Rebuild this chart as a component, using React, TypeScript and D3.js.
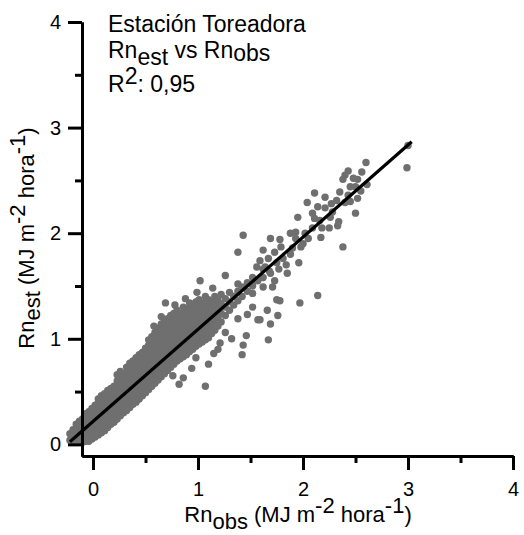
import React, { useEffect, useRef } from 'react';
import * as d3 from 'd3';

// dense part of the cloud: one Rn obs value per column, the Rn est values stacked on it
const bandObs = [
  -0.22, -0.19, -0.16, -0.13, -0.1, -0.07, -0.04, -0.01, 0.02, 0.05, 0.08, 0.11, 0.14, 0.17, 0.2,
  0.23, 0.26, 0.29, 0.32, 0.35, 0.38, 0.41, 0.44, 0.47, 0.5, 0.53, 0.56, 0.59, 0.62, 0.65, 0.68,
  0.71, 0.74, 0.77, 0.8, 0.83, 0.86, 0.89, 0.92, 0.95, 0.98, 1.01, 1.04, 1.07, 1.1, 1.13, 1.16,
  1.19, 1.22, 1.26, 1.3, 1.34, 1.38, 1.42, 1.47, 1.52, 1.57, 1.62, 1.68,
];
const bandEst = [
  [0.04, 0.1],
  [0.03, 0.09, 0.14],
  [0.02, 0.08, 0.14, 0.19],
  [0.02, 0.07, 0.13, 0.19, 0.22],
  [0.02, 0.07, 0.13, 0.18, 0.24],
  [0.03, 0.08, 0.14, 0.19, 0.25, 0.29],
  [0.03, 0.09, 0.15, 0.21, 0.27, 0.31],
  [0.05, 0.11, 0.17, 0.23, 0.29, 0.34],
  [0.07, 0.13, 0.19, 0.25, 0.31, 0.37],
  [0.09, 0.15, 0.21, 0.27, 0.33, 0.39, 0.43],
  [0.11, 0.17, 0.23, 0.29, 0.35, 0.41, 0.46],
  [0.13, 0.19, 0.25, 0.31, 0.37, 0.43, 0.48],
  [0.16, 0.22, 0.28, 0.34, 0.4, 0.46, 0.51],
  [0.19, 0.25, 0.31, 0.37, 0.43, 0.49, 0.53],
  [0.21, 0.27, 0.33, 0.39, 0.45, 0.51, 0.55],
  [0.24, 0.3, 0.36, 0.42, 0.48, 0.54, 0.6, 0.66],
  [0.27, 0.33, 0.39, 0.45, 0.51, 0.57, 0.63, 0.69],
  [0.3, 0.36, 0.42, 0.48, 0.54, 0.6, 0.65],
  [0.32, 0.38, 0.44, 0.5, 0.56, 0.62, 0.68, 0.73],
  [0.35, 0.41, 0.47, 0.53, 0.59, 0.65, 0.71, 0.77],
  [0.38, 0.44, 0.5, 0.56, 0.62, 0.68, 0.74, 0.79],
  [0.4, 0.46, 0.52, 0.58, 0.64, 0.7, 0.76, 0.82],
  [0.43, 0.49, 0.55, 0.61, 0.67, 0.73, 0.79, 0.85],
  [0.46, 0.52, 0.58, 0.64, 0.7, 0.76, 0.82, 0.87],
  [0.49, 0.55, 0.61, 0.67, 0.73, 0.79, 0.85, 0.91],
  [0.52, 0.58, 0.64, 0.7, 0.76, 0.82, 0.88, 0.94, 0.99],
  [0.55, 0.61, 0.67, 0.73, 0.79, 0.85, 0.91, 0.97, 1.02],
  [0.58, 0.64, 0.7, 0.76, 0.82, 0.88, 0.94, 1.0, 1.06],
  [0.61, 0.67, 0.73, 0.79, 0.85, 0.91, 0.97, 1.03, 1.1],
  [0.64, 0.7, 0.76, 0.82, 0.88, 0.94, 1.0, 1.06, 1.14, 1.21],
  [0.67, 0.73, 0.79, 0.85, 0.91, 0.97, 1.03, 1.09, 1.17],
  [0.7, 0.76, 0.82, 0.88, 0.94, 1.0, 1.06, 1.12, 1.19],
  [0.73, 0.79, 0.85, 0.91, 0.97, 1.03, 1.09, 1.15, 1.22],
  [0.76, 0.82, 0.88, 0.94, 1.0, 1.06, 1.12, 1.18, 1.24],
  [0.79, 0.85, 0.91, 0.97, 1.03, 1.09, 1.15, 1.21, 1.27],
  [0.81, 0.87, 0.93, 0.99, 1.05, 1.11, 1.17, 1.23],
  [0.83, 0.89, 0.95, 1.01, 1.07, 1.13, 1.19, 1.25, 1.3],
  [0.85, 0.91, 0.97, 1.03, 1.09, 1.15, 1.21, 1.27],
  [0.88, 0.94, 1.0, 1.06, 1.12, 1.18, 1.24, 1.3],
  [0.9, 0.96, 1.02, 1.08, 1.14, 1.2, 1.26, 1.32],
  [0.93, 0.99, 1.05, 1.11, 1.17, 1.23, 1.29, 1.35],
  [0.95, 1.01, 1.07, 1.13, 1.19, 1.25, 1.31, 1.37],
  [0.97, 1.03, 1.09, 1.15, 1.21, 1.27, 1.33],
  [0.99, 1.05, 1.11, 1.17, 1.23, 1.29, 1.35, 1.4],
  [1.01, 1.07, 1.13, 1.19, 1.25, 1.31, 1.37],
  [1.05, 1.11, 1.17, 1.23, 1.29, 1.35],
  [1.08, 1.14, 1.2, 1.26, 1.32, 1.4],
  [1.12, 1.2, 1.28, 1.36],
  [1.16, 1.24, 1.33, 1.42],
  [1.22, 1.3, 1.38],
  [1.27, 1.35, 1.44],
  [1.32, 1.4],
  [1.36, 1.45, 1.52],
  [1.4, 1.49],
  [1.45, 1.53],
  [1.5, 1.58],
  [1.55],
  [1.58, 1.66],
  [1.64],
];

// scattered points, read one at a time: [Rn obs, Rn est]
const loosePoints: [number, number][] = [
  [0.69, 1.34], [0.78, 1.32], [0.88, 1.38], [0.99, 1.44], [1.02, 1.55], [1.14, 1.48], [1.26, 1.6],
  [1.38, 1.82], [1.43, 1.98], [1.59, 1.74], [0.58, 1.12], [0.92, 1.34],
  [1.07, 0.55], [0.82, 0.57], [0.76, 0.65], [0.86, 0.63], [0.94, 0.72], [1.1, 0.76], [1.42, 0.85],
  [1.43, 0.94], [1.46, 1.03], [1.32, 1.0], [1.67, 0.99], [1.69, 1.14], [1.76, 1.22], [1.66, 1.27],
  [1.57, 1.18], [1.47, 1.23], [1.38, 1.19], [1.78, 1.36], [1.97, 1.34], [1.21, 0.96], [1.26, 1.06],
  [2.14, 1.41], [1.19, 0.9], [1.59, 1.18], [1.52, 1.3], [0.98, 0.82], [1.15, 0.86], [1.75, 1.37],
  [3.0, 2.83], [2.99, 2.62], [2.6, 2.67], [2.43, 2.59], [2.4, 2.55], [2.38, 2.51], [2.52, 2.51],
  [2.61, 2.46], [2.5, 2.44], [2.45, 2.44], [2.35, 2.39], [2.43, 2.36], [2.52, 2.33], [2.4, 2.29],
  [2.32, 2.31], [2.21, 2.34], [2.11, 2.38], [2.27, 2.28], [2.21, 2.24], [2.14, 2.25], [2.04, 2.29],
  [2.09, 2.19], [2.11, 2.14], [2.16, 2.12], [2.26, 2.15], [1.95, 2.15], [2.5, 2.19], [2.34, 2.11],
  [2.33, 2.07], [2.38, 1.87], [2.09, 2.05], [2.02, 2.0], [1.93, 2.01], [1.88, 2.0], [1.78, 1.94],
  [1.69, 1.95], [1.93, 1.95], [1.9, 1.86], [1.98, 1.87], [1.79, 1.87], [1.73, 1.82], [1.62, 1.84],
  [1.56, 1.68], [1.64, 1.68], [1.69, 1.62], [1.81, 1.76], [1.96, 1.72], [1.85, 1.62], [1.73, 1.55],
  [1.62, 1.49], [1.71, 1.49], [1.54, 1.55], [1.52, 1.43], [2.17, 1.96], [1.75, 1.72], [1.88, 1.8],
  [2.0, 1.9], [2.05, 1.95], [2.25, 2.05], [2.28, 2.2], [2.45, 2.3], [2.55, 2.4], [2.18, 2.05],
  [1.77, 1.66], [1.84, 1.7], [2.56, 2.58], [2.48, 2.52], [1.67, 1.76],
];

// regression line ends
const fitObs = [-0.22, 3.035];
const fitEst = [0.025, 2.866];

const majorTicks = [0, 1, 2, 3, 4];
const minorTicks = [0.5, 1.5, 2.5, 3.5];

const width = 524;
const height = 535;
const font = '"Liberation Sans", Arial, sans-serif';

const App = () => {
  const svgRef = useRef<SVGSVGElement>(null);

  useEffect(() => {
    const svg = d3.select(svgRef.current);
    svg.selectAll('*').remove();

    const x = d3.scaleLinear().domain([-0.105, 4]).range([82, 513]);
    const y = d3.scaleLinear().domain([-0.11, 4]).range([456, 22]);

    const points: [number, number][] = [];
    bandObs.forEach((o, i) => bandEst[i].forEach((e) => points.push([o, e])));
    loosePoints.forEach((p) => points.push(p));

    svg
      .append('g')
      .selectAll('circle')
      .data(points)
      .join('circle')
      .attr('cx', (d) => x(d[0]))
      .attr('cy', (d) => y(d[1]))
      .attr('r', 3.7)
      .attr('fill', '#6f6f6f');

    const line = d3
      .line<number>()
      .x((d) => x(d))
      .y((d, i) => y(fitEst[i]));
    svg
      .append('path')
      .attr('d', line(fitObs))
      .attr('fill', 'none')
      .attr('stroke', '#000')
      .attr('stroke-width', 3.2);

    const styleAxis = (g) => {
      g.selectAll('path, line').attr('stroke', '#000').attr('stroke-width', 3);
      g.selectAll('text').attr('font-size', 20).attr('font-family', font).attr('fill', '#000');
    };

    svg
      .append('g')
      .attr('transform', 'translate(82,0)')
      .call(d3.axisLeft(y).tickValues(majorTicks).tickSize(14).tickSizeOuter(0).tickPadding(7).tickFormat(d3.format('d')))
      .call(styleAxis);
    svg
      .append('g')
      .attr('transform', 'translate(82,0)')
      .call(d3.axisLeft(y).tickValues(minorTicks).tickSize(7).tickSizeOuter(0).tickFormat(() => ''))
      .call(styleAxis);
    svg
      .append('g')
      .attr('transform', 'translate(0,456)')
      .call(d3.axisBottom(x).tickValues(majorTicks).tickSize(14).tickSizeOuter(0).tickPadding(12).tickFormat(d3.format('d')))
      .call(styleAxis);
    svg
      .append('g')
      .attr('transform', 'translate(0,456)')
      .call(d3.axisBottom(x).tickValues(minorTicks).tickSize(7).tickSizeOuter(0).tickFormat(() => ''))
      .call(styleAxis);

    // axis titles
    const xt = svg
      .append('text')
      .attr('x', 298)
      .attr('y', 522)
      .attr('text-anchor', 'middle')
      .attr('font-size', 22)
      .attr('font-family', font);
    xt.append('tspan').text('Rn');
    xt.append('tspan').attr('dy', 7).text('obs');
    xt.append('tspan').attr('dy', -7).text(' (MJ m');
    xt.append('tspan').attr('dy', -9).text('-2');
    xt.append('tspan').attr('dy', 9).text(' hora');
    xt.append('tspan').attr('dy', -9).text('-1');
    xt.append('tspan').attr('dy', 9).text(')');

    const yt = svg
      .append('text')
      .attr('transform', 'translate(34,238) rotate(-90)')
      .attr('text-anchor', 'middle')
      .attr('font-size', 22)
      .attr('font-family', font);
    yt.append('tspan').text('Rn');
    yt.append('tspan').attr('dy', 6).text('est');
    yt.append('tspan').attr('dy', -6).text(' (MJ m');
    yt.append('tspan').attr('dy', -9).text('-2');
    yt.append('tspan').attr('dy', 9).text(' hora');
    yt.append('tspan').attr('dy', -9).text('-1');
    yt.append('tspan').attr('dy', 9).text(')');

    // annotation block
    const note = svg.append('g').attr('font-size', 23).attr('font-family', font);
    note.append('text').attr('x', 108).attr('y', 32).text('Estación Toreadora');
    const l2 = note.append('text').attr('x', 108).attr('y', 58);
    l2.append('tspan').text('Rn');
    l2.append('tspan').attr('dy', 7).text('est');
    l2.append('tspan').attr('dy', -7).text(' vs Rn');
    l2.append('tspan').attr('dy', 3).text('obs');
    const l3 = note.append('text').attr('x', 108).attr('y', 92);
    l3.append('tspan').text('R');
    l3.append('tspan').attr('dy', -8).text('2');
    l3.append('tspan').attr('dy', 8).text(': 0,95');
  }, []);

  return (
    <div>
      <svg
        ref={svgRef}
        width={width}
        height={height}
        style={{ position: 'absolute', left: 0, top: 0, background: '#fff' }}
      />
    </div>
  );
};

export default App;
